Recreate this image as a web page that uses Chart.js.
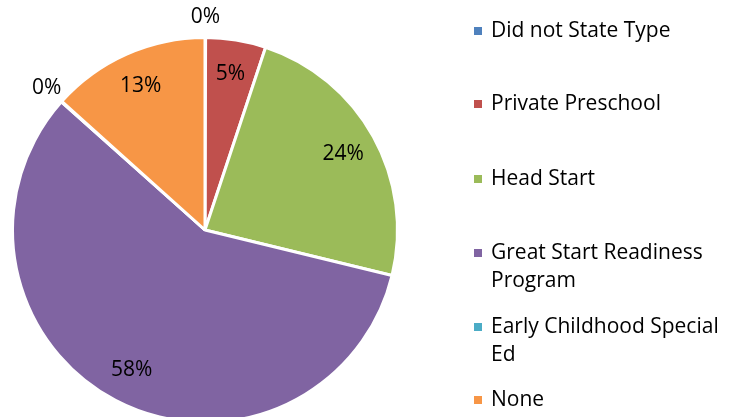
<!DOCTYPE html>
<html>
<head>
<meta charset="utf-8">
<script src="https://cdn.jsdelivr.net/npm/chart.js@4.4.0/dist/chart.umd.min.js"></script>
<style>
  html, body { margin: 0; padding: 0; background: #fff; overflow: hidden; }
  #wrap { width: 733px; height: 440px; }
</style>
</head>
<body>
<div id="wrap"><canvas id="chart" width="733" height="440"></canvas></div>
<script>
const categories = ["Did not State Type", "Private Preschool", "Head Start", "Great Start Readiness Program", "Early Childhood Special Ed", "None"];
const legendLines = [["Did not State Type"], ["Private Preschool"], ["Head Start"], ["Great Start Readiness", "Program"], ["Early Childhood Special", "Ed"], ["None"]];
const shares = [0.05, 5.05, 23.7, 57.8, 0.05, 13.35];
const colors = ["#4F81BD", "#C0504D", "#9BBB59", "#8064A2", "#4BACC6", "#F79646"];

const FONT = "'Open Sans', sans-serif";

// percent labels, inside for real slices, outside for the empty ones
const labelPlugin = {
  id: "sliceLabels",
  afterDatasetsDraw(chart) {
    const c = chart.ctx;
    const meta = chart.getDatasetMeta(0);
    c.save();
    c.font = "21px " + FONT;
    c.fillStyle = "#000";
    c.textAlign = "center";
    c.textBaseline = "middle";
    meta.data.forEach((arc, i) => {
      const mid = (arc.startAngle + arc.endAngle) / 2;
      const pct = Math.round(shares[i]);
      const r = pct < 1 ? arc.outerRadius + 20 : arc.outerRadius * 0.82;
      const x = arc.x + Math.cos(mid) * r;
      const y = arc.y + Math.sin(mid) * r;
      c.fillText(pct + "%", x, y);
    });
    c.restore();
  }
};

// legend on the right, with wrapped lines
const legendPlugin = {
  id: "sideLegend",
  afterDraw(chart) {
    const c = chart.ctx;
    const rows = [31, 104, 179, 253, 327, 400];
    c.save();
    c.font = "21px " + FONT;
    c.textBaseline = "middle";
    c.textAlign = "left";
    legendLines.forEach((lines, i) => {
      c.fillStyle = colors[i];
      c.fillRect(474, rows[i] - 4, 8, 8);
      c.fillStyle = "#000";
      lines.forEach((t, j) => c.fillText(t, 491, rows[i] + j * 28));
    });
    c.restore();
  }
};

const ctx = document.getElementById("chart").getContext("2d");
const chart = new Chart(ctx, {
  type: "pie",
  data: {
    labels: categories,
    datasets: [{
      data: shares,
      backgroundColor: colors,
      borderColor: "#fff",
      borderWidth: 3
    }]
  },
  options: {
    responsive: false,
    animation: false,
    layout: { padding: { left: 11, top: 36, right: 334, bottom: 16 } },
    plugins: {
      legend: { display: false },
      tooltip: { enabled: false }
    }
  },
  plugins: [labelPlugin, legendPlugin]
});
</script>
</body>
</html>
